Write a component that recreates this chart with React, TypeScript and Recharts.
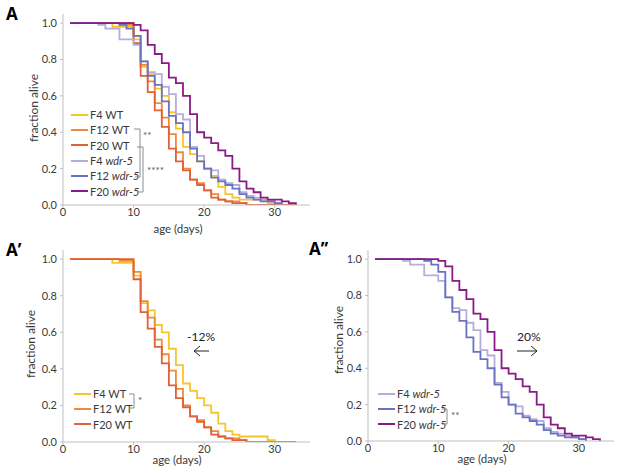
import { Legend, Line, LineChart, XAxis, YAxis } from "recharts";

// survival (fraction alive) per day, index 0 = day 1; null = curve already ended
const days = [
  1, 2, 3, 4, 5, 6, 7, 8, 9, 10, 11, 12, 13, 14, 15, 16, 17, 18, 19, 20, 21, 22, 23, 24, 25, 26, 27,
  28, 29, 30, 31, 32, 33
];
const f4Wt = [
  1, 1, 1, 1, 1, 1, 0.98, 0.98, 0.98, 0.91, 0.76, 0.72, 0.64, 0.6, 0.51, 0.42, 0.32, 0.28, 0.24,
  0.2, 0.16, 0.1, 0.06, 0.04, 0.03, 0.03, 0.03, 0.03, 0.01, 0, null, null, null
];
const f12Wt = [
  1, 1, 1, 1, 1, 1, 1, 0.99, 0.99, 0.93, 0.77, 0.68, 0.56, 0.48, 0.39, 0.29, 0.2, 0.14, 0.12, 0.08,
  0.06, 0.03, 0.02, 0.02, 0.01, 0, null, null, null, null, null, null, null
];
const f20Wt = [
  1, 1, 1, 1, 1, 1, 1, 1, 1, 0.89, 0.71, 0.62, 0.52, 0.43, 0.31, 0.24, 0.19, 0.14, 0.11, 0.08,
  0.04, 0.03, 0.02, 0.01, 0.01, 0, 0, 0, 0, 0, 0, 0, 0
];
const f4Wdr = [
  1, 1, 1, 1, 0.99, 0.97, 0.97, 0.91, 0.91, 0.88, 0.79, 0.73, 0.72, 0.65, 0.61, 0.5, 0.47, 0.32,
  0.27, 0.2, 0.19, 0.14, 0.12, 0.11, 0.07, 0.05, 0.04, 0.03, 0.02, 0.01, 0, null, null
];
const f12Wdr = [
  1, 1, 1, 1, 1, 1, 1, 0.99, 0.97, 0.93, 0.79, 0.71, 0.66, 0.57, 0.49, 0.45, 0.4, 0.31, 0.24, 0.2,
  0.15, 0.13, 0.11, 0.09, 0.06, 0.04, 0.03, 0.02, 0.02, 0.01, 0, null, null
];
const f20Wdr = [
  1, 1, 1, 1, 1, 1, 1, 1, 1, 0.99, 0.96, 0.88, 0.83, 0.78, 0.7, 0.67, 0.6, 0.5, 0.4, 0.37, 0.34,
  0.3, 0.27, 0.2, 0.13, 0.09, 0.07, 0.04, 0.03, 0.03, 0.02, 0.01, 0
];

const xTicks = [0, 10, 20, 30];
const yTicks = [0, 0.2, 0.4, 0.6, 0.8, 1];

type SeriesKey = "f4Wt" | "f12Wt" | "f20Wt" | "f4Wdr" | "f12Wdr" | "f20Wdr";

const rows = days.map((day, i) => ({
  day,
  f4Wt: f4Wt[i],
  f12Wt: f12Wt[i],
  f20Wt: f20Wt[i],
  f4Wdr: f4Wdr[i],
  f12Wdr: f12Wdr[i],
  f20Wdr: f20Wdr[i]
}));

const seriesInfo: Record<SeriesKey, { gen: string; strain: string; mutant: boolean; color: string }> = {
  f4Wt: { gen: "F4", strain: "WT", mutant: false, color: "#f8c42c" },
  f12Wt: { gen: "F12", strain: "WT", mutant: false, color: "#f08a38" },
  f20Wt: { gen: "F20", strain: "WT", mutant: false, color: "#e0603a" },
  f4Wdr: { gen: "F4", strain: "wdr-5", mutant: true, color: "#b4aedb" },
  f12Wdr: { gen: "F12", strain: "wdr-5", mutant: true, color: "#6a73c2" },
  f20Wdr: { gen: "F20", strain: "wdr-5", mutant: true, color: "#8a1a88" }
};

const axisColor = "#bfbfbf";
const textColor = "#3a3a3a";

function LegendBox({ payload, order }: { payload?: any[]; order: SeriesKey[] }) {
  const entries = [...(payload ?? [])].sort(
    (a, b) => order.indexOf(a.dataKey) - order.indexOf(b.dataKey)
  );
  return (
    <div style={{ fontSize: 11, color: textColor }}>
      {entries.map((entry) => {
        const info = seriesInfo[entry.dataKey as SeriesKey];
        return (
          <div key={entry.dataKey} style={{ display: "flex", alignItems: "center", height: 15.3 }}>
            <span style={{ width: 17, height: 2, background: info.color, marginRight: 2 }} />
            <span>
              {info.gen} {info.mutant ? <i>{info.strain}</i> : info.strain}
            </span>
          </div>
        );
      })}
    </div>
  );
}

type PanelProps = {
  keys: SeriesKey[];
  width: number;
  height: number;
  top: number;
  right: number;
  yAxisWidth: number;
  xAxisHeight: number;
  legendLeft: number;
  legendTop: number;
};

function SurvivalPanel(p: PanelProps) {
  return (
    <LineChart
      width={p.width}
      height={p.height}
      data={rows}
      margin={{ top: p.top, right: p.right, left: 0, bottom: 0 }}
    >
      <XAxis
        type="number"
        dataKey="day"
        domain={[0, 35]}
        ticks={xTicks}
        allowDataOverflow
        height={p.xAxisHeight}
        stroke={axisColor}
        tickSize={3}
        tickMargin={0}
        tick={{ fontSize: 11, fill: textColor }}
      />
      <YAxis
        type="number"
        domain={[0, 1.05]}
        ticks={yTicks}
        allowDataOverflow
        width={p.yAxisWidth}
        stroke={axisColor}
        tickSize={3}
        tickMargin={3}
        tick={{ fontSize: 11, fill: textColor }}
        tickFormatter={(v: number) => v.toFixed(1)}
      />
      {p.keys.map((k) => (
        <Line
          key={k}
          dataKey={k}
          type="stepAfter"
          stroke={seriesInfo[k].color}
          strokeWidth={1.8}
          dot={false}
          activeDot={false}
          isAnimationActive={false}
        />
      ))}
      <Legend
        layout="vertical"
        align="center"
        verticalAlign="middle"
        wrapperStyle={{ left: p.legendLeft, top: p.legendTop, width: "auto", height: "auto" }}
        content={(props: any) => <LegendBox payload={props.payload} order={p.keys} />}
      />
    </LineChart>
  );
}

const allKeys: SeriesKey[] = ["f4Wt", "f12Wt", "f20Wt", "f4Wdr", "f12Wdr", "f20Wdr"];
const wtKeys: SeriesKey[] = ["f4Wt", "f12Wt", "f20Wt"];
const wdrKeys: SeriesKey[] = ["f4Wdr", "f12Wdr", "f20Wdr"];

const bracket = { stroke: "#8c8c8c", strokeWidth: 1, fill: "none" };

export default function App() {
  return (
    <div
      style={{
        position: "absolute",
        left: 0,
        top: 0,
        width: 617,
        height: 473,
        background: "#fff",
        fontFamily: "Lato, 'Open Sans', sans-serif"
      }}
    >
      <div style={{ position: "absolute", left: 0, top: 0 }}>
        <SurvivalPanel
          keys={allKeys}
          width={320}
          height={240}
          top={14}
          right={10}
          yAxisWidth={63}
          xAxisHeight={35}
          legendLeft={71}
          legendTop={107}
        />
      </div>
      <div style={{ position: "absolute", left: 0, top: 240 }}>
        <SurvivalPanel
          keys={wtKeys}
          width={320}
          height={233}
          top={10}
          right={10}
          yAxisWidth={63}
          xAxisHeight={31}
          legendLeft={74}
          legendTop={146}
        />
      </div>
      <div style={{ position: "absolute", left: 310, top: 240 }}>
        <SurvivalPanel
          keys={wdrKeys}
          width={307}
          height={233}
          top={10}
          right={3}
          yAxisWidth={58}
          xAxisHeight={32}
          legendLeft={68}
          legendTop={146}
        />
      </div>
      <svg
        width={617}
        height={473}
        style={{ position: "absolute", left: 0, top: 0, pointerEvents: "none" }}
      >
        <g fontFamily="'Open Sans', sans-serif" fontWeight={700} fontSize={17} fill="#000">
          <text x={6} y={20}>A</text>
          <text x={6} y={256}>A’</text>
          <text x={309} y={255}>A’’</text>
        </g>
        <g fontSize={12} fill={textColor} textAnchor="middle" dominantBaseline="central">
          <text transform="translate(33,108) rotate(-90)">fraction alive</text>
          <text transform="translate(30,344) rotate(-90)">fraction alive</text>
          <text transform="translate(338,340) rotate(-90)">fraction alive</text>
        </g>
        <g fontSize={11.5} fill={textColor} textAnchor="middle">
          <text x={178} y={233}>age (days)</text>
          <text x={177} y={464}>age (days)</text>
          <text x={482} y={463}>age (days)</text>
        </g>
        {/* significance brackets */}
        <path d="M134,129 H140 V177 H135" {...bracket} />
        <path d="M137,147 H143 V192 H137" {...bracket} />
        <path d="M129,394 H134 V408 H129" {...bracket} />
        <path d="M442,409 H447 V424 H442" {...bracket} />
        <g fontSize={10} fill="#555">
          <text x={143} y={139}>**</text>
          <text x={147} y={174}>****</text>
          <text x={138} y={404}>*</text>
          <text x={451} y={419}>**</text>
        </g>
        {/* lifespan shift annotations */}
        <g fontSize={12} fill="#222">
          <text x={187} y={341}>-12%</text>
          <text x={517} y={341}>20%</text>
        </g>
        <g stroke="#222" strokeWidth={1} fill="none">
          <path d="M194,351 H209 M200,346 L194,351 L200,356" />
          <path d="M517,351 H537 M531,346 L537,351 L531,356" />
        </g>
      </svg>
    </div>
  );
}
